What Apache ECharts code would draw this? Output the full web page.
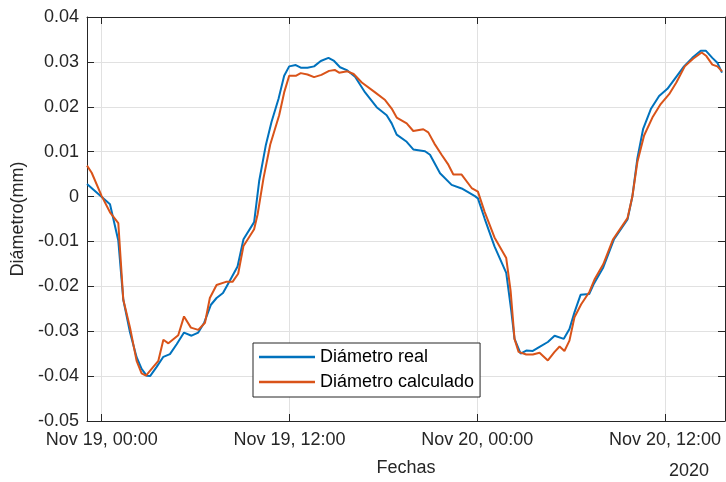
<!DOCTYPE html>
<html>
<head>
<meta charset="utf-8">
<script src="https://cdn.jsdelivr.net/npm/echarts@6/dist/echarts.min.js"></script>
<style>
html,body{margin:0;padding:0;background:#fff;}
#chart{width:726px;height:482px;}
</style>
</head>
<body>
<div id="chart"></div>
<script>
// Hours relative to Nov 19 2020, 00:00
const realHours = [-0.94,0.53,1.06,1.38,1.81,2.23,2.55,2.87,3.09,3.5,3.94,4.36,4.79,5.26,5.74,6.17,6.55,6.98,7.34,7.75,8.15,8.68,9.06,9.74,10.06,10.49,10.85,11.3,11.66,11.98,12.4,12.72,13.15,13.57,14.0,14.49,14.85,15.23,15.7,16.19,16.83,17.57,18.21,18.53,18.85,19.49,19.91,20.66,20.98,21.62,22.36,23.0,23.85,24.04,24.47,25.1,25.85,26.17,26.38,26.77,27.13,27.55,27.98,28.51,28.94,29.53,29.89,30.21,30.6,31.15,31.47,32.05,32.74,33.6,33.91,34.23,34.6,35.09,35.62,36.15,36.68,37.21,37.74,38.28,38.6,39.02,39.34,39.64];
const realValues = [0.0028,-0.0017,-0.0098,-0.023,-0.0303,-0.0358,-0.0384,-0.0399,-0.0400,-0.038,-0.0357,-0.0351,-0.0329,-0.0303,-0.031,-0.0303,-0.0281,-0.0241,-0.0226,-0.0215,-0.019,-0.0156,-0.0095,-0.0057,0.0034,0.0115,0.0166,0.0218,0.0269,0.029,0.0293,0.0287,0.0287,0.029,0.0302,0.0309,0.0302,0.0288,0.0281,0.0267,0.0232,0.0199,0.0181,0.0163,0.0138,0.0122,0.0105,0.0101,0.0093,0.0052,0.0026,0.0018,0.0001,-0.0004,-0.0049,-0.0111,-0.017,-0.0254,-0.0317,-0.035,-0.0343,-0.0344,-0.0335,-0.0324,-0.031,-0.0317,-0.0295,-0.0258,-0.0219,-0.0217,-0.0193,-0.0158,-0.0095,-0.0051,0.0,0.0085,0.0151,0.0195,0.0224,0.024,0.0265,0.029,0.0309,0.0325,0.0325,0.0309,0.0298,0.0276];

const calcHours = [-0.94,-0.64,0.0,0.53,1.06,1.38,1.81,2.23,2.55,2.83,3.19,3.62,3.94,4.26,4.89,5.26,5.70,6.17,6.6,6.91,7.34,7.94,8.36,8.72,9.06,9.74,9.96,10.34,10.77,11.34,11.66,11.98,12.4,12.72,13.15,13.57,14.04,14.53,14.89,15.17,15.7,16.1,16.62,17.47,18.11,18.53,18.85,19.49,19.91,20.55,20.87,21.26,21.72,22.15,22.47,23.0,23.64,24.04,24.47,25.1,25.85,26.13,26.38,26.64,27.13,27.55,27.98,28.51,28.94,29.26,29.57,29.89,30.21,30.64,31.17,31.49,32.05,32.68,33.6,33.91,34.23,34.66,35.19,35.72,36.26,36.72,37.26,37.79,38.34,38.64,39.02,39.34,39.64];
const calcValues = [0.0069,0.0053,0.0001,-0.0035,-0.0059,-0.023,-0.0292,-0.0366,-0.0394,-0.0399,-0.0384,-0.0366,-0.0319,-0.0327,-0.0309,-0.0267,-0.0292,-0.0297,-0.0281,-0.0226,-0.0197,-0.019,-0.019,-0.0172,-0.011,-0.0073,-0.004,0.0041,0.0116,0.0181,0.0232,0.0269,0.0269,0.0275,0.0272,0.0266,0.0271,0.028,0.0282,0.0276,0.0279,0.0273,0.0254,0.0232,0.0215,0.0196,0.0176,0.0163,0.0146,0.015,0.0143,0.0118,0.0093,0.0071,0.0049,0.0049,0.0019,0.0011,-0.0034,-0.0091,-0.0137,-0.021,-0.0317,-0.0346,-0.0352,-0.0352,-0.0348,-0.0365,-0.0346,-0.0334,-0.0344,-0.0321,-0.0269,-0.024,-0.0212,-0.0185,-0.0151,-0.0095,-0.0048,0.0,0.0077,0.0136,0.0176,0.0206,0.0228,0.0254,0.029,0.0307,0.0321,0.0313,0.0294,0.029,0.0279];

const seriesNames = ['Diámetro real','Diámetro calculado'];
const xAxisName = 'Fechas';
const yAxisName = 'Diámetro(mm)';
const yearLabel = '2020';
const monthNames = ['Jan','Feb','Mar','Apr','May','Jun','Jul','Aug','Sep','Oct','Nov','Dec'];
const xTickHours = [0, 12, 24, 36];
const xRangeHours = [-0.94, 39.83];
const yMin = -0.05, yMax = 0.04, yStep = 0.01;

const base = Date.UTC(2020, 10, 19, 0, 0, 0);
const H = 3600 * 1000;
const toPairs = (hs, vs) => hs.map((h, i) => [h, vs[i]]);

const FONT = 'Liberation Sans, Arial, Helvetica, sans-serif';
const FS = 18;
const TXT = '#262626';
const fmt2 = n => (n < 10 ? '0' : '') + n;
const hourLabel = h => {
  const d = new Date(base + h * H);
  return monthNames[d.getUTCMonth()] + ' ' + d.getUTCDate() + ', ' + fmt2(d.getUTCHours()) + ':' + fmt2(d.getUTCMinutes());
};

const chart = echarts.init(document.getElementById('chart'), null, {renderer: 'canvas'});
const commonX = {
  type: 'value',
  min: xRangeHours[0],
  max: xRangeHours[1],
  axisLine: {show: true, onZero: false, lineStyle: {color: TXT, width: 1}},
  axisTick: {show: true, inside: true, length: 7, lineStyle: {color: TXT}, customValues: xTickHours}
};
const commonY = {
  type: 'value', min: yMin, max: yMax, interval: yStep,
  axisLine: {show: true, onZero: false, lineStyle: {color: TXT, width: 1}},
  axisTick: {show: true, inside: true, length: 7, lineStyle: {color: TXT}}
};
const option = {
  animation: false,
  backgroundColor: '#ffffff',
  textStyle: {fontFamily: FONT},
  grid: {left: 87, top: 17, right: 1, bottom: 57, containLabel: false},
  title: {
    text: yearLabel, left: 669, top: 462,
    textStyle: {fontFamily: FONT, fontSize: FS, fontWeight: 'normal', color: TXT},
    padding: 0
  },
  legend: {
    orient: 'vertical', left: 253, top: 343,
    padding: [4, 6, 5, 6],
    icon: 'rect',
    itemWidth: 56, itemHeight: 2.5, itemGap: 5,
    backgroundColor: '#ffffff', borderColor: '#262626', borderWidth: 1,
    textStyle: {fontFamily: FONT, fontSize: FS, color: '#000', lineHeight: 20},
    data: seriesNames
  },
  xAxis: [
    Object.assign({}, commonX, {
      position: 'bottom',
      name: xAxisName, nameLocation: 'middle', nameGap: 38,
      nameTextStyle: {fontFamily: FONT, fontSize: FS, color: TXT},
      axisLabel: {
        show: true, margin: 10, fontFamily: FONT, fontSize: FS, color: TXT,
        hideOverlap: false,
        customValues: xTickHours,
        formatter: hourLabel
      },
      splitLine: {show: true, lineStyle: {color: '#e1e1e1', width: 1}}
    }),
    Object.assign({}, commonX, {
      position: 'top',
      axisLabel: {show: false},
      splitLine: {show: false}
    })
  ],
  yAxis: [
    Object.assign({}, commonY, {
      position: 'left',
      name: yAxisName, nameLocation: 'middle', nameGap: 52, nameRotate: 90,
      nameTextStyle: {fontFamily: FONT, fontSize: FS, color: TXT},
      axisLabel: {margin: 8, fontFamily: FONT, fontSize: FS, color: TXT,
        formatter: v => (Math.abs(v) < 1e-9 ? '0' : (+v.toFixed(2)).toString())},
      splitLine: {show: true, lineStyle: {color: '#e1e1e1', width: 1}}
    }),
    Object.assign({}, commonY, {
      position: 'right',
      axisLabel: {show: false},
      splitLine: {show: false}
    })
  ],
  series: [
    {
      name: seriesNames[0], type: 'line', xAxisIndex: 0, yAxisIndex: 0,
      data: toPairs(realHours, realValues),
      symbol: 'none', showSymbol: false,
      lineStyle: {color: '#0072BD', width: 2}, itemStyle: {color: '#0072BD'}
    },
    {
      name: seriesNames[1], type: 'line', xAxisIndex: 0, yAxisIndex: 0,
      data: toPairs(calcHours, calcValues),
      symbol: 'none', showSymbol: false,
      lineStyle: {color: '#D95319', width: 2}, itemStyle: {color: '#D95319'}
    }
  ]
};
chart.setOption(option);
</script>
</body>
</html>
